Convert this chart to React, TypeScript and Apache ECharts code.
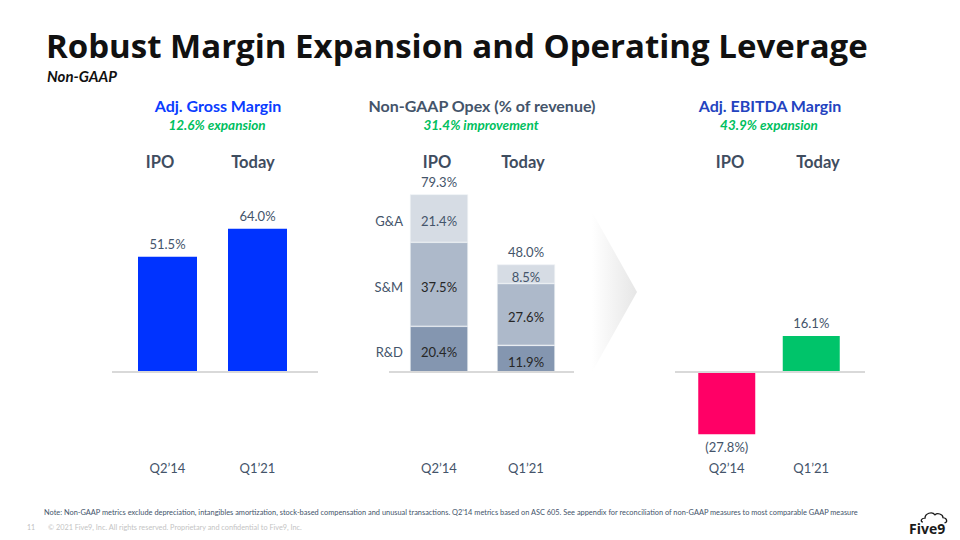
import React, { useEffect, useRef } from "react";
import * as echarts from "echarts";

const periods = ["Q2’14", "Q1’21"];
const stageLabels = ["IPO", "Today"];
const grossMargin = [51.5, 64.0];
const opexRD = [20.4, 11.9];
const opexSM = [37.5, 27.6];
const opexGA = [21.4, 8.5];
const opexTotal = [79.3, 48.0];
const opexNames = ["R&D", "S&M", "G&A"];
const ebitdaMargin = [-27.8, 16.1];
const ebitdaColors = ["#ff0066", "#00c46a"];

const sectionTitles = ["Adj. Gross Margin", "Non-GAAP Opex (% of revenue)", "Adj. EBITDA Margin"];
const sectionSubtitles = ["12.6% expansion", "31.4% improvement", "43.9% expansion"];

const BODY = "Lato, 'Open Sans', sans-serif";
const LABEL = "#44546a";
const DARK = "#262626";

const pct = (v: number) => (v < 0 ? `(${Math.abs(v).toFixed(1)}%)` : `${v.toFixed(1)}%`);

export default function App() {
  const ref = useRef<HTMLDivElement>(null);
  useEffect(() => {
    if (!ref.current) return;
    const chart = echarts.init(ref.current, undefined, { renderer: "svg" });
    const xAxisBase = (gridIndex: number, margin: number) => ({
      type: "category",
      gridIndex,
      data: periods,
      axisLine: { show: false, onZero: false },
      axisTick: { show: false },
      axisLabel: { margin, color: LABEL, fontSize: 13, fontFamily: BODY },
    });
    const scale = 2.24;
    const option: any = {
      animation: false,
      backgroundColor: "#ffffff",
      grid: [
        { left: 122.5, width: 180, top: 372 - 80 * scale, height: 80 * scale },
        { left: 395.5, width: 174, top: 372 - 80 * scale, height: 80 * scale },
        { left: 684.5, width: 169, top: 372 - 20 * scale, height: 50 * scale },
      ],
      xAxis: [xAxisBase(0, 89), xAxisBase(1, 89), xAxisBase(2, 22)],
      yAxis: [
        { type: "value", gridIndex: 0, min: 0, max: 80, show: false },
        { type: "value", gridIndex: 1, min: 0, max: 80, show: false },
        { type: "value", gridIndex: 2, min: -30, max: 20, show: false },
      ],
      series: [
        {
          type: "bar",
          xAxisIndex: 0,
          yAxisIndex: 0,
          data: grossMargin,
          barWidth: 59,
          itemStyle: { color: "#0033ff" },
          label: {
            show: true,
            position: "top",
            distance: 6,
            color: LABEL,
            fontSize: 13,
            fontFamily: BODY,
            formatter: (p: any) => pct(p.value),
          },
        },
        ...[
          { name: opexNames[0], data: opexRD, color: "#8496b0", text: DARK },
          { name: opexNames[1], data: opexSM, color: "#adb9ca", text: DARK },
          { name: opexNames[2], data: opexGA, color: "#d6dce4", text: LABEL },
        ].map((s) => ({
          type: "bar",
          name: s.name,
          xAxisIndex: 1,
          yAxisIndex: 1,
          stack: "opex",
          data: s.data,
          barWidth: 58,
          itemStyle: { color: s.color, borderColor: "#eef1f5", borderWidth: 0.6 },
          label: {
            show: true,
            position: "inside",
            offset: [0, 3],
            color: s.text,
            fontSize: 13,
            fontFamily: BODY,
            formatter: (p: any) => pct(p.value),
          },
        })),
        {
          type: "scatter",
          xAxisIndex: 1,
          yAxisIndex: 1,
          data: opexTotal,
          symbolSize: 0,
          itemStyle: { color: LABEL },
          label: {
            show: true,
            position: "top",
            distance: 6,
            color: LABEL,
            opacity: 1,
            fontSize: 13,
            fontFamily: BODY,
            formatter: (p: any) => pct(p.value),
          },
        },
        {
          type: "bar",
          xAxisIndex: 2,
          yAxisIndex: 2,
          barWidth: 57,
          data: ebitdaMargin.map((v, i) => ({
            value: v,
            itemStyle: { color: ebitdaColors[i] },
            label: { position: v < 0 ? "bottom" : "top" },
          })),
          label: {
            show: true,
            distance: 6,
            color: LABEL,
            fontSize: 13,
            fontFamily: BODY,
            formatter: (p: any) => pct(p.value),
          },
        },
      ],
    };
    chart.setOption(option);

    const zeroY = (g: number) => (chart.convertToPixel({ gridIndex: g } as any, [0, 0]) as number[])[1];
    const valY = (g: number, v: number) => (chart.convertToPixel({ gridIndex: g } as any, [0, v]) as number[])[1];

    const txt = (x: number, y: number, text: string, o: any = {}) => ({
      type: "text",
      x,
      y,
      silent: true,
      style: {
        text,
        fill: o.fill || LABEL,
        fontSize: o.fontSize || 13,
        fontFamily: o.fontFamily || BODY,
        fontWeight: o.fontWeight || "normal",
        fontStyle: o.fontStyle || "normal",
        align: o.align || "left",
        verticalAlign: "middle",
        textAlign: o.align || "left",
        textVerticalAlign: "middle",
      },
    });

    const graphics: any[] = [];
    // chevron
    graphics.push({
      type: "polygon",
      silent: true,
      shape: { points: [[592, 212], [637, 292], [592, 372]] },
      style: {
        fill: {
          type: "linear", x: 0, y: 0, x2: 1, y2: 0,
          colorStops: [
            { offset: 0, color: "#ffffff" },
            { offset: 1, color: "#e6e6e6" },
          ],
        },
      },
    });
    // baselines
    const lines = [
      [0, 112, 318],
      [1, 389, 574],
      [2, 675, 865],
    ];
    lines.forEach(([g, x1, x2]) => {
      const y = zeroY(g);
      graphics.push({
        type: "line",
        silent: true,
        shape: { x1, y1: y, x2, y2: y },
        style: { stroke: "#d9d9d9", lineWidth: 2 },
        z: 10,
      });
    });
    // title
    graphics.push(txt(46, 45, "Robust Margin Expansion and Operating Leverage", {
      fill: "#111111", fontSize: 33, fontWeight: "bold", fontFamily: "'Open Sans', sans-serif",
    }));
    graphics.push(txt(47, 76, "Non-GAAP", {
      fill: "#111111", fontSize: 15, fontWeight: "bold", fontStyle: "italic", fontFamily: BODY,
    }));
    // sections
    const secCenters = [218, 482, 770];
    const secColors = ["#0a3cff", "#44546a", "#2343c0"];
    sectionTitles.forEach((t, i) => {
      graphics.push(txt(secCenters[i], 105, t, { fill: secColors[i], fontSize: 16, fontWeight: "bold", align: "center" }));
      graphics.push(txt(secCenters[i] - 1, 125, sectionSubtitles[i], {
        fill: "#00c060", fontSize: 13.5, fontWeight: "bold", fontStyle: "italic", align: "center",
      }));
    });
    // IPO / Today headers
    const headerX = [[160, 253], [437, 523], [730, 818]];
    headerX.forEach((xs) => {
      stageLabels.forEach((s, i) => {
        graphics.push(txt(xs[i], 162, s, {
          fill: "#3f4d5f", fontSize: 16.5, fontWeight: "bold", align: "center",
        }));
      });
    });
    // opex category names
    let cum = 0;
    [opexRD, opexSM, opexGA].forEach((arr, k) => {
      const mid = cum + arr[0] / 2;
      cum += arr[0];
      graphics.push(txt(403, valY(1, mid) + 3, opexNames[k], { fill: LABEL, fontSize: 13, align: "right" }));
    });
    // footer
    graphics.push(txt(44, 512, "Note: Non-GAAP metrics exclude depreciation, intangibles amortization, stock-based compensation and unusual transactions. Q2’14 metrics based on ASC 605. See appendix for reconciliation of non-GAAP measures to most comparable GAAP measure", {
      fill: LABEL, fontSize: 7.4,
    }));
    graphics.push(txt(27, 527, "11", { fill: "#bfbfbf", fontSize: 7 }));
    graphics.push(txt(48, 527, "© 2021 Five9, Inc. All rights reserved. Proprietary and confidential to Five9, Inc.", {
      fill: "#c4c4c4", fontSize: 7.3,
    }));
    // logo
    graphics.push(txt(909, 528, "Five9", { fill: "#1a1a1a", fontSize: 14, fontWeight: "bold", fontFamily: "'Open Sans', sans-serif" }));
    try {
      echarts.graphic.registerShape(
        "five9cloud",
        (echarts.graphic as any).extendPath("M2 13 C-1 13 0 8 4 8.5 C4 3 11 0 14 4.5 C16 2 22 3 22 8 C26 8 27 13 23.5 14", {})
      );
      graphics.push({
        type: "five9cloud",
        x: 921,
        y: 511,
        scaleX: 1,
        scaleY: 0.85,
        silent: true,
        style: { fill: "none", stroke: "#1a1a1a", lineWidth: 1.3 },
      });
    } catch (e) {}

    chart.setOption({ graphic: graphics });
    return () => chart.dispose();
  }, []);
  return <div ref={ref} style={{ position: "fixed", left: 0, top: 0, width: 960, height: 540 }} />;
}
